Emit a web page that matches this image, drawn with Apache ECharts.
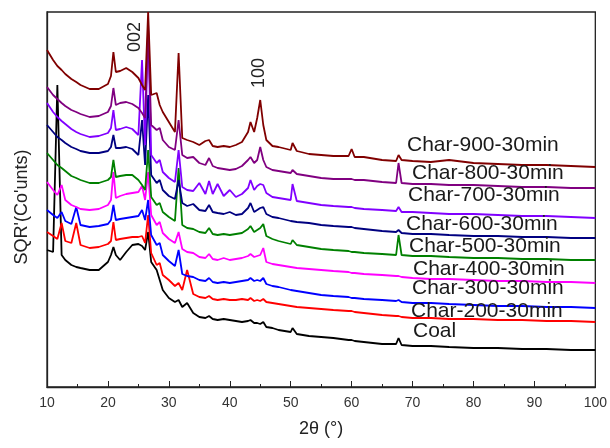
<!DOCTYPE html>
<html>
<head>
<meta charset="utf-8">
<script src="https://cdn.jsdelivr.net/npm/echarts@6/dist/echarts.min.js"></script>
<style>html,body{margin:0;padding:0;background:#fff}#c{width:610px;height:448px}</style>
</head>
<body>
<div id="c"></div>
<script>
// 2θ positions (degrees)
const X = [10,11,11.7,12.4,13,14,14.8,15.5,17,18.5, 20,20.5,20.9,21.3,22,23,24,25,25.6,26.1, 26.6,27.1,28,28.5,29,30,31,31.6,32.2,33, 34,35,36,36.6,37.2,38,39,40,41,42, 43,43.4,44,44.5,45,45.5,46,47,48,50, 50.3,51,53,55,57,59.5,60,60.5,62,65,67.3,67.7,68.2, 70,73,76,80,84,88,92,96,100];

// stacked SQR(counts), arbitrary offset units
const char900 = [337,327,321,317,313,308,305,302,298,298, 303,311,335,315,316,319,315,309,302,297, 375,292,294,282,275,265,255,334,249,247, 245,242,246,247,241,240,241,240,242,245, 255,265,255,269,287,262,247,241,240,237, 244,236,233,232,231,231,238,230,230,227,226,232,227, 226,225,227,224,223,222,222,221,220];
const char800 = [300,292,288,284,281,277,275,273,270,271, 275,281,299,282,284,285,283,279,274,269, 357,262,257,259,247,240,237,267,232,229, 230,224,222,229,221,219,218,217,218,221, 227,230,224,227,240,227,220,217,216,214, 217,213,211,209,208,208,208,207,207,205,204,224,204, 203,203,202,202,201,200,200,199,199];
const char700 = [284,275,270,266,263,258,255,253,250,251, 254,259,277,257,258,260,258,252,327,242, 362,232,224,227,215,209,205,237,200,197, 196,204,193,206,193,203,191,197,190,193, 199,207,197,201,203,202,194,190,189,187, 203,186,184,182,181,180,180,179,178,177,176,180,175, 175,174,173,173,172,171,171,170,169];
const char600 = [262,255,250,247,244,240,238,236,234,234, 236,240,252,239,239,240,238,232,267,222, 292,212,204,207,197,191,188,207,184,181, 183,177,176,182,175,174,173,175,172,173, 179,184,175,177,179,180,173,170,169,166, 168,165,164,162,161,160,160,159,158,156,155,157,154, 153,153,152,151,151,150,150,149,149];
const char500 = [234,227,222,219,216,211,209,207,204,204, 207,210,227,210,211,212,212,207,202,197, 237,190,182,184,175,170,166,219,162,159, 158,155,154,159,153,152,153,152,153,154, 158,161,155,157,159,163,151,148,146,143, 147,142,140,138,137,136,135,135,134,133,132,152,132, 131,131,130,129,129,128,128,127,127];
const char400 = [205,197,192,202,187,182,180,178,177,178, 182,187,215,189,191,193,194,195,201,187, 215,172,162,165,154,148,144,155,138,135, 134,130,129,133,128,127,129,127,128,129, 131,133,130,131,132,139,125,123,122,120, 121,119,118,117,116,115,114,114,113,112,111,111,110, 109,108,108,107,106,106,105,105,104];
const char300 = [177,172,169,175,166,163,180,162,160,161, 163,167,182,167,168,169,170,171,177,167, 187,152,142,144,132,126,121,137,113,111, 110,107,106,109,105,104,105,104,105,106, 107,109,106,107,106,109,103,101,100,97, 98,96,94,92,91,90,89,89,88,87,86,87,85, 84,84,83,82,81,81,80,80,79];
const char200 = [155,151,148,164,146,144,164,142,139,140, 143,146,165,147,148,149,150,150,151,144, 172,134,122,124,112,107,101,104,97,117, 93,90,89,91,88,87,88,87,87,88, 87,89,86,87,86,88,85,84,83,81, 82,80,79,78,77,76,76,75,74,72,71,71,70, 69,69,68,68,67,67,66,66,65];
const coal = [137,135,302,132,127,122,120,119,117,117, 125,132,140,132,127,135,142,143,141,137, 155,125,117,107,97,89,85,87,80,84, 74,70,69,71,68,67,68,67,66,65, 66,67,64,64,63,65,60,59,57,55, 59,53,51,50,49,47,47,46,45,43,43,49,42, 41,41,40,39,39,38,38,37,37];

const seriesNames = ['Coal','Char-200-30min','Char-300-30min','Char-400-30min','Char-500-30min','Char-600-30min','Char-700-30min','Char-800-30min','Char-900-30min'];
const seriesValues = [coal,char200,char300,char400,char500,char600,char700,char800,char900];
const xTicks = [10,20,30,40,50,60,70,80,90,100];
const peakLabels = ['002','100'];

const colors = ['#000000','#ff0000','#0000ff','#ff00ff','#008000','#000080','#8000ff','#800080','#800000'];
const labelPos = [[413,333],[411,313],[412,290],[413,271],[409,248],[406,226],[408,197],[412,175],[407,147]];

const chart = echarts.init(document.getElementById('c'), null, {renderer:'canvas'});
const series = seriesValues.map((ys, k) => ({
  name: seriesNames[k],
  type: 'line',
  data: X.map((x, i) => [x, ys[i]]),
  symbol: 'none',
  lineStyle: {color: colors[k], width: 1.8},
  itemStyle: {color: colors[k]},
  animation: false,
  z: 2 + k
}));

const graphics = seriesNames.map((n, k) => ({
  type: 'text', left: labelPos[k][0], top: labelPos[k][1] - 12,
  style: {text: n, font: '21px "Liberation Sans", Arial, sans-serif', fill: '#1a1a1a'},
  z: 100
}));
graphics.push({type:'text', x:135, y:37, rotation: Math.PI/2,
  style:{text: peakLabels[0], font:'18px "Liberation Sans", Arial, sans-serif', fill:'#222', align:'center', verticalAlign:'middle'}, z:100});
graphics.push({type:'text', x:259, y:73, rotation: Math.PI/2,
  style:{text: peakLabels[1], font:'18px "Liberation Sans", Arial, sans-serif', fill:'#222', align:'center', verticalAlign:'middle'}, z:100});
graphics.push({type:'text', x:22, y:207, rotation: Math.PI/2,
  style:{text: "SQR'(Co'unts)", font:'18px "Liberation Sans", Arial, sans-serif', fill:'#222', align:'center', verticalAlign:'middle'}, z:100});

chart.setOption({
  backgroundColor: '#fff',
  animation: false,
  grid: {left: 47, right: 13, top: 12, bottom: 61, show: true, borderColor: '#222', borderWidth: 1.3, containLabel: false},
  xAxis: {
    type: 'value', min: 10, max: 100, interval: 10,
    name: '2θ (°)', nameLocation: 'middle', nameGap: 33,
    nameTextStyle: {fontSize: 18, color: '#222', fontFamily: '"Liberation Sans", Arial, sans-serif'},
    axisLine: {show: true, onZero: false, lineStyle: {color: '#222', width: 1.3}},
    axisTick: {show: true, inside: true, length: 6, lineStyle: {color: '#222'}},
    minorTick: {show: true, splitNumber: 2, length: 3, lineStyle: {color: '#222'}},
    axisLabel: {fontSize: 14, color: '#333', margin: 9, fontFamily: '"Liberation Sans", Arial, sans-serif',
      formatter: v => xTicks.includes(v) ? String(v) : ''},
    splitLine: {show: false}
  },
  yAxis: {
    type: 'value', min: 0, max: 375,
    axisLine: {show: true, lineStyle: {color: '#222', width: 1.3}},
    axisTick: {show: false}, axisLabel: {show: false}, splitLine: {show: false}
  },
  graphic: graphics,
  series: series
});
</script>
</body>
</html>
